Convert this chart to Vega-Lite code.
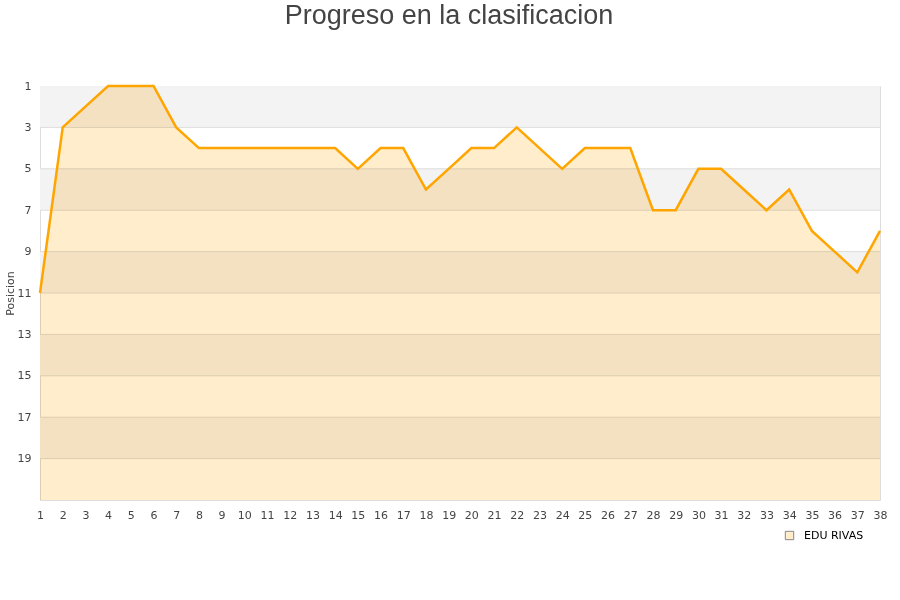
{
  "$schema": "https://vega.github.io/schema/vega-lite/v6.json",
  "autosize": "none",
  "width": 840,
  "height": 414,
  "padding": {"left": 40, "top": 86, "right": 20, "bottom": 100},
  "title": {"text": "Progreso en la clasificacion", "font": "Liberation Sans", "fontSize": 27, "fontWeight": "normal", "color": "#444444", "anchor": "middle", "offset": 50, "dx": -11},
  "config": {
    "view": {"stroke": "#dddddd", "strokeWidth": 1},
    "axis": {"labelFont": "DejaVu Sans", "labelFontSize": 11, "labelColor": "#444444", "domain": false, "ticks": false, "grid": false, "titleFont": "DejaVu Sans", "titleFontSize": 11, "titleFontWeight": "normal", "titleColor": "#444444"},
    "axisX": {"labelOverlap": false, "labelFlush": false, "labelPadding": 9}
  },
  "datasets": {
    "serie": [
      {"jornada": 1, "posicion": 11, "jugador": "EDU RIVAS"},
      {"jornada": 2, "posicion": 3, "jugador": "EDU RIVAS"},
      {"jornada": 3, "posicion": 2, "jugador": "EDU RIVAS"},
      {"jornada": 4, "posicion": 1, "jugador": "EDU RIVAS"},
      {"jornada": 5, "posicion": 1, "jugador": "EDU RIVAS"},
      {"jornada": 6, "posicion": 1, "jugador": "EDU RIVAS"},
      {"jornada": 7, "posicion": 3, "jugador": "EDU RIVAS"},
      {"jornada": 8, "posicion": 4, "jugador": "EDU RIVAS"},
      {"jornada": 9, "posicion": 4, "jugador": "EDU RIVAS"},
      {"jornada": 10, "posicion": 4, "jugador": "EDU RIVAS"},
      {"jornada": 11, "posicion": 4, "jugador": "EDU RIVAS"},
      {"jornada": 12, "posicion": 4, "jugador": "EDU RIVAS"},
      {"jornada": 13, "posicion": 4, "jugador": "EDU RIVAS"},
      {"jornada": 14, "posicion": 4, "jugador": "EDU RIVAS"},
      {"jornada": 15, "posicion": 5, "jugador": "EDU RIVAS"},
      {"jornada": 16, "posicion": 4, "jugador": "EDU RIVAS"},
      {"jornada": 17, "posicion": 4, "jugador": "EDU RIVAS"},
      {"jornada": 18, "posicion": 6, "jugador": "EDU RIVAS"},
      {"jornada": 19, "posicion": 5, "jugador": "EDU RIVAS"},
      {"jornada": 20, "posicion": 4, "jugador": "EDU RIVAS"},
      {"jornada": 21, "posicion": 4, "jugador": "EDU RIVAS"},
      {"jornada": 22, "posicion": 3, "jugador": "EDU RIVAS"},
      {"jornada": 23, "posicion": 4, "jugador": "EDU RIVAS"},
      {"jornada": 24, "posicion": 5, "jugador": "EDU RIVAS"},
      {"jornada": 25, "posicion": 4, "jugador": "EDU RIVAS"},
      {"jornada": 26, "posicion": 4, "jugador": "EDU RIVAS"},
      {"jornada": 27, "posicion": 4, "jugador": "EDU RIVAS"},
      {"jornada": 28, "posicion": 7, "jugador": "EDU RIVAS"},
      {"jornada": 29, "posicion": 7, "jugador": "EDU RIVAS"},
      {"jornada": 30, "posicion": 5, "jugador": "EDU RIVAS"},
      {"jornada": 31, "posicion": 5, "jugador": "EDU RIVAS"},
      {"jornada": 32, "posicion": 6, "jugador": "EDU RIVAS"},
      {"jornada": 33, "posicion": 7, "jugador": "EDU RIVAS"},
      {"jornada": 34, "posicion": 6, "jugador": "EDU RIVAS"},
      {"jornada": 35, "posicion": 8, "jugador": "EDU RIVAS"},
      {"jornada": 36, "posicion": 9, "jugador": "EDU RIVAS"},
      {"jornada": 37, "posicion": 10, "jugador": "EDU RIVAS"},
      {"jornada": 38, "posicion": 8, "jugador": "EDU RIVAS"}
    ],
    "bandas": [
      {"desde": 1, "hasta": 3},
      {"desde": 5, "hasta": 7},
      {"desde": 9, "hasta": 11},
      {"desde": 13, "hasta": 15},
      {"desde": 17, "hasta": 19}
    ],
    "rejilla": [
      {"nivel": 3}, {"nivel": 5}, {"nivel": 7}, {"nivel": 9}, {"nivel": 11},
      {"nivel": 13}, {"nivel": 15}, {"nivel": 17}, {"nivel": 19}
    ]
  },
  "layer": [
    {
      "data": {"name": "bandas"},
      "mark": {"type": "rect", "fill": "#f3f3f3"},
      "encoding": {
        "y": {"field": "desde", "type": "quantitative", "scale": {"domain": [1, 21], "reverse": true, "nice": false, "zero": false},
              "axis": {"values": [1, 3, 5, 7, 9, 11, 13, 15, 17, 19], "title": "Posicion", "labelPadding": 9, "titlePadding": 2}},
        "y2": {"field": "hasta"}
      }
    },
    {
      "data": {"name": "rejilla"},
      "mark": {"type": "rule", "stroke": "#dddddd", "strokeWidth": 1},
      "encoding": {
        "y": {"field": "nivel", "type": "quantitative"}
      }
    },
    {
      "data": {"name": "serie"},
      "mark": {"type": "area", "fillOpacity": 1, "blend": "multiply", "interpolate": "linear"},
      "encoding": {
        "x": {"field": "jornada", "type": "quantitative", "scale": {"domain": [1, 38], "nice": false, "zero": false},
              "axis": {"values": [1,2,3,4,5,6,7,8,9,10,11,12,13,14,15,16,17,18,19,20,21,22,23,24,25,26,27,28,29,30,31,32,33,34,35,36,37,38], "title": null, "labelOverlap": false, "labelFlush": false, "labelPadding": 9}},
        "y": {"field": "posicion", "type": "quantitative"},
        "y2": {"datum": 21},
        "fill": {"field": "jugador", "type": "nominal", "scale": {"range": ["#ffedcc"]},
                 "legend": {"title": null, "orient": "none", "legendX": 744, "legendY": 444, "symbolType": "square", "symbolSize": 70,
                            "symbolStrokeColor": "#888888", "symbolStrokeWidth": 1, "symbolOpacity": 1,
                            "labelFont": "DejaVu Sans", "labelFontSize": 11, "labelColor": "#000000", "labelOffset": 9}}
      }
    },
    {
      "data": {"name": "serie"},
      "mark": {"type": "line", "stroke": "#ffa500", "strokeWidth": 2.5, "interpolate": "linear"},
      "encoding": {
        "x": {"field": "jornada", "type": "quantitative", "axis": {"values": [1,2,3,4,5,6,7,8,9,10,11,12,13,14,15,16,17,18,19,20,21,22,23,24,25,26,27,28,29,30,31,32,33,34,35,36,37,38], "title": null, "labelOverlap": false, "labelFlush": false, "labelPadding": 9}},
        "y": {"field": "posicion", "type": "quantitative"}
      }
    }
  ]
}
